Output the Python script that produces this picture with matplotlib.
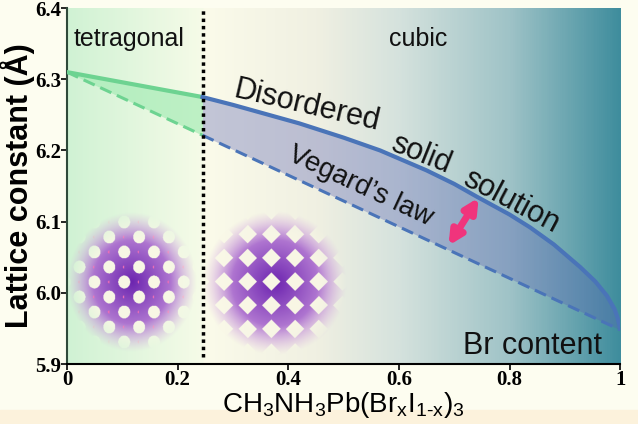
import numpy as np
import matplotlib.pyplot as plt
from matplotlib.colors import LinearSegmentedColormap
from matplotlib.patches import FancyArrowPatch

# Composition (Br fraction) and lattice constants
x_boundary = 0.245
vegard_x = [0.0, 1.0]
vegard_a = [6.31, 5.948]
tetra_x = [0.0, 0.245]
tetra_a = [6.31, 6.275]
cubic_x = [0.245, 0.30, 0.36, 0.42, 0.50, 0.566, 0.65, 0.70, 0.741, 0.80, 0.837, 0.88,
           0.928, 0.955, 0.976, 0.99, 0.995, 1.0]
cubic_a = [6.275, 6.264, 6.251, 6.238, 6.218, 6.200, 6.172, 6.153, 6.135, 6.110, 6.092,
           6.068, 6.036, 6.016, 5.996, 5.977, 5.966, 5.950]

xticks = [0, 0.2, 0.4, 0.6, 0.8, 1.0]
xticklabels = ['0', '0.2', '0.4', '0.6', '0.8', '1']
yticks = [5.9, 6.0, 6.1, 6.2, 6.3, 6.4]
yticklabels = ['5.9', '6.0', '6.1', '6.2', '6.3', '6.4']

plt.rcParams['mathtext.default'] = 'regular'
plt.rcParams['mathtext.fontset'] = 'custom'
plt.rcParams['mathtext.rm'] = 'Liberation Sans'

fig = plt.figure(figsize=(6.38, 4.24), dpi=100, facecolor='#fdfdf0')
fig.patches.append(plt.Rectangle((0, 0), 1, 0.032, transform=fig.transFigure,
                                 color='#fcf2dc', zorder=-1))
ax = fig.add_axes([0.105, 0.1415, 0.867, 0.8395])
ax.set_facecolor('#fbfbeb')

# background gradient along x
bg = LinearSegmentedColormap.from_list('bg', [
    (0.0, '#d0f2d4'), (0.244, '#f6fbe8'), (0.246, '#fbfbea'),
    (0.45, '#f0f0e2'), (0.6, '#d5e2dd'), (0.8, '#9fc3c7'), (1.0, '#3f8d9d')])
grad = np.linspace(0, 1, 600).reshape(1, -1)
ax.imshow(grad, cmap=bg, extent=[0, 1, 5.9, 6.4], aspect='auto', zorder=0)


# decorative lattice pictures
def lattice_img(kind, n=300):
    yy, xx = np.mgrid[-1:1:n * 1j, -1:1:n * 1j]
    r = np.sqrt(xx ** 2 + yy ** 2)
    img = np.zeros((n, n, 4))
    img[..., 0] = 0.40 + 0.45 * r
    img[..., 1] = 0.10 + 0.55 * r
    img[..., 2] = 0.68 + 0.22 * r
    alpha = np.clip((1.0 - r) / 0.4, 0, 1) * 0.95
    if kind == 'tetra':
        px, py = 0.46, 0.43
        gx = (xx + 0.12) / px
        gy = (yy + 0.0) / py
        dots = np.zeros_like(r, dtype=bool)
        for ox, oy in [(0, 0), (0.5, 0.5)]:
            dx = (gx - ox) - np.round(gx - ox)
            dy = (gy - oy) - np.round(gy - oy)
            dots |= np.sqrt((dx * px) ** 2 + (dy * py) ** 2) < 0.092
            # small pink sites between the white ones
            pink = np.sqrt(((dx - 0.5 + np.round(dx)) * px) ** 2 + (dy * py) ** 2) < 0.022
            img[pink, 0] = 0.95
            img[pink, 1] = 0.40
            img[pink, 2] = 0.70
    else:
        p = 0.33
        gx = (xx + 0.05) / p
        gy = (yy + 0.02) / p
        dx = gx - np.round(gx)
        dy = gy - np.round(gy)
        dots = (np.abs(dx) + np.abs(dy)) * p < 0.13
    img[dots, 0] = 0.98
    img[dots, 1] = 0.97
    img[dots, 2] = 0.90
    img[..., 3] = alpha
    return img


ax.imshow(lattice_img('tetra'), extent=[0.0, 0.235, 5.917, 6.113], aspect='auto', zorder=1)
ax.imshow(lattice_img('cubic'), extent=[0.245, 0.505, 5.913, 6.115], aspect='auto', zorder=1)

# fills between the real curve and Vegard's law
veg_tetra = np.interp(tetra_x, vegard_x, vegard_a)
ax.fill_between(tetra_x, veg_tetra, tetra_a, color='#a6ecb6', alpha=0.7, lw=0, zorder=2)
veg_cubic = np.interp(cubic_x, vegard_x, vegard_a)
ax.fill_between(cubic_x, veg_cubic, cubic_a, color='#5a62b4', alpha=0.35, lw=0, zorder=2)

# Vegard's law dashed lines
ax.plot([0, x_boundary], np.interp([0, x_boundary], vegard_x, vegard_a),
        color='#6dd391', lw=2.2, ls=(0, (4, 2)), zorder=3)
ax.plot([x_boundary, 1], np.interp([x_boundary, 1], vegard_x, vegard_a),
        color='#4a74b8', lw=2.2, ls=(0, (4, 2)), zorder=3)
# measured curves
ax.plot(tetra_x, tetra_a, color='#6dd391', lw=3, zorder=4)
ax.plot(cubic_x, cubic_a, color='#4a74b8', lw=3, zorder=4, solid_joinstyle='round')

# phase boundary
ax.plot([x_boundary, x_boundary], [5.91, 6.4], color='black', lw=2.5,
        ls=(0, (1, 1.1)), zorder=5)

# double arrow
arr = FancyArrowPatch((0.687, 6.063), (0.747, 6.137), arrowstyle='<|-|>',
                      mutation_scale=20, lw=5, color='#f0347c', zorder=6)
ax.add_patch(arr)

# labels
txt = dict(family='Liberation Sans', color='#111111', zorder=7)
ax.text(0.012, 6.356, 'tetragonal', fontsize=18, va='center', ha='left', **txt)
ax.text(0.635, 6.356, 'cubic', fontsize=18, va='center', ha='center', **txt)
ax.text(0.433, 6.262, 'Disordered', fontsize=22, rotation=-13, ha='center', va='center', **txt)
ax.text(0.64, 6.195, 'solid', fontsize=22, rotation=-22, ha='center', va='center', **txt)
ax.text(0.803, 6.128, 'solution', fontsize=22, rotation=-28, ha='center', va='center', **txt)
ax.text(0.53, 6.150, 'Vegard\u2019s law', fontsize=20, rotation=-25, ha='center', va='center', **txt)
ax.text(0.968, 5.925, 'Br content', fontsize=22, ha='right', va='center', **txt)

ax.set_xlim(0, 1)
ax.set_ylim(5.9, 6.4)
ax.set_xticks(xticks)
ax.set_xticklabels(xticklabels, family='Liberation Serif', fontweight='bold', fontsize=15)
ax.set_yticks(yticks)
ax.set_yticklabels(yticklabels, family='Liberation Serif', fontweight='bold', fontsize=15)
ax.tick_params(direction='out', length=4, width=1.2, pad=0)
for s in ['top', 'right']:
    ax.spines[s].set_visible(False)
ax.spines['left'].set_color('#2f4a3a')
ax.spines['left'].set_linewidth(1.5)
ax.spines['bottom'].set_linewidth(1.5)

ax.set_xlabel('CH$_3$NH$_3$Pb(Br$_x$I$_{1\u2010x}$)$_3$', family='Liberation Sans',
              fontsize=20, labelpad=0)
ax.set_ylabel('Lattice constant (\u00c5)', family='Liberation Sans', fontweight='bold',
              fontsize=22, labelpad=0)

fig.savefig('out.png', dpi=100, facecolor=fig.get_facecolor())
